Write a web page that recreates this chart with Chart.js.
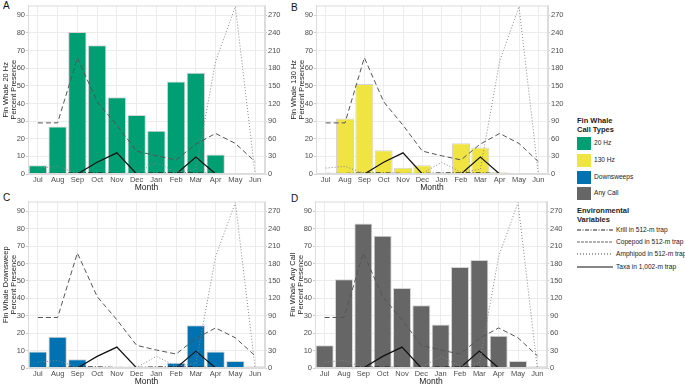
<!DOCTYPE html>
<html lang="en">
<head>
<meta charset="utf-8" />
<title>Fin whale call presence and zooplankton</title>
<style>
*{box-sizing:border-box;margin:0;padding:0}
body{width:685px;height:387px;overflow:hidden;background:#fff;position:relative;
     font-family:"Liberation Sans",Arial,Helvetica,sans-serif;color:#222}
canvas{position:absolute}
.tag{position:absolute;font-size:10px;color:#111}
.lg{position:absolute;font-size:6.6px;color:#222;white-space:nowrap;line-height:1}
.lg.h{font-size:7.5px;font-weight:bold;line-height:8.5px}
.sw{position:absolute;left:577px;width:14px;height:13px}
svg.ln{position:absolute;left:577px}
</style>
</head>
<body>

<div class="tag" style="left:3px;top:0px">A</div>
<div class="tag" style="left:291px;top:2px">B</div>
<div class="tag" style="left:3px;top:192px">C</div>
<div class="tag" style="left:291px;top:193px">D</div>

<canvas id="pA" width="285" height="194" style="left:0;top:0"></canvas>
<canvas id="pB" width="280" height="194" style="left:288px;top:0"></canvas>
<canvas id="pC" width="285" height="192" style="left:0;top:196px"></canvas>
<canvas id="pD" width="280" height="192" style="left:287px;top:196px"></canvas>

<!-- legend: call types -->
<div class="lg h" style="left:577px;top:117px">Fin Whale<br>Call Types</div>
<span class="sw" style="top:137px;background:#009e73"></span><div class="lg" style="left:594px;top:140px">20 Hz</div>
<span class="sw" style="top:154px;background:#f0e442"></span><div class="lg" style="left:594px;top:157px">130 Hz</div>
<span class="sw" style="top:171px;background:#0072b2"></span><div class="lg" style="left:594px;top:174px">Downsweeps</div>
<span class="sw" style="top:187px;background:#666666"></span><div class="lg" style="left:594px;top:190px">Any Call</div>

<!-- legend: environmental variables -->
<div class="lg h" style="left:577px;top:207px">Environmental<br>Variables</div>
<svg class="ln" width="36" height="4" style="top:228px"><line x1="0" y1="2" x2="36" y2="2" stroke="#222" stroke-width="1" stroke-dasharray="4,1.5,1,1.5"/></svg>
<div class="lg" style="left:616px;top:227px">Krill in 512-m trap</div>
<svg class="ln" width="36" height="4" style="top:240px"><line x1="0" y1="2" x2="36" y2="2" stroke="#666" stroke-width="1" stroke-dasharray="3,1"/></svg>
<div class="lg" style="left:616px;top:239px">Copepod in 512-m trap</div>
<svg class="ln" width="36" height="4" style="top:252px"><line x1="0" y1="2" x2="36" y2="2" stroke="#444" stroke-width="1" stroke-dasharray="1,2"/></svg>
<div class="lg" style="left:616px;top:251px">Amphipod in 512-m trap</div>
<svg class="ln" width="36" height="4" style="top:265px"><line x1="0" y1="2" x2="36" y2="2" stroke="#111" stroke-width="1.2"/></svg>
<div class="lg" style="left:616px;top:264px">Taxa in 1,002-m trap</div>

<script src="https://cdn.jsdelivr.net/npm/chart.js@4.4.1"></script>
<script>

/* ─── data ─────────────────────────────────────────────── */
const months    = ['Jul','Aug','Sep','Oct','Nov','Dec','Jan','Feb','Mar','Apr','May','Jun'];

/* percent presence of each call type (left axis) */
const hz20      = [5, 27, 80.5, 73, 43.5, 33.5, 24.5, 52.5, 57.5, 11, 0, 0];
const hz130     = [0, 31.5, 51, 13.5, 3.5, 5, 0.5, 17.5, 15, 1, 0, 0];
const downsweep = [9.5, 18, 5, 0.3, 0, 0, 0, 3, 24.5, 9.5, 4, 1];
const anyCall   = [13, 51, 83, 76, 46, 36, 25, 58, 62, 18.5, 4, 1];

/* environmental variables (right axis) */
const krill     = [1, 1, 2, 2, 1, 1, 2, 2, 2, 1, null, null];
const copepod   = [87, 87, 198, 123, 83, 39, 31, 24, 51, 69, 52, 21];
const amphipod  = [10, 13, 1, 1, 1, 1, 20, 3, 8, 192, 285, 0];
const taxa      = [0, 0, 0, 20, 36, 0, 0, 0, 29, 0, null, null];

const LEFT_MAX  = 95.6;

Chart.defaults.font.family = '"Liberation Sans", Arial, sans-serif';
Chart.defaults.color = '#4d4d4d';

const GRID = '#ececec';

/* light frame round the panel, like the ggplot panel border */
const frame = {
    id:'frame',
    afterDraw(c){
        const {ctx, chartArea:a} = c;
        ctx.save();
        ctx.strokeStyle = '#dcdcdc';
        ctx.lineWidth = 1;
        ctx.strokeRect(a.left + 0.5, a.top + 0.5, a.right - a.left - 1, a.bottom - a.top - 1);
        ctx.restore();
    }
};

function makePanel({id, bars, color, yTitle}){
    const lineSet = (label, data, col, dash, w) => ({
        type:'line', label, data, yAxisID:'y2', order:1,
        borderColor:col, borderWidth:w, borderDash:dash,
        pointRadius:0, fill:false, tension:0, spanGaps:false
    });

    new Chart(document.getElementById(id), {
        type:'bar',
        data:{
            labels:months,
            datasets:[
                {label:'calls', data:bars, backgroundColor:color, borderColor:'#d4d4d4',
                 borderWidth:1, barPercentage:0.93, categoryPercentage:1, yAxisID:'y', order:2},
                lineSet('Krill', krill, '#222', [5,2,1,2], 1),
                lineSet('Copepod', copepod, '#555', [5,3], 1),
                lineSet('Amphipod', amphipod, '#888', [1,2], 1),
                lineSet('Taxa', taxa, '#111', [], 1.2)
            ]
        },
        plugins:[frame],
        options:{
            responsive:false,
            animation:false,
            layout:{padding:{top:5, right:0, left:0, bottom:0}},
            plugins:{legend:{display:false}, tooltip:{enabled:false}},
            scales:{
                x:{
                    offset:true,
                    grid:{color:GRID, offset:false, tickLength:1, tickColor:'#ccc'},
                    border:{color:'#dcdcdc'},
                    ticks:{font:{size:7.5}, padding:0, autoSkip:false, maxRotation:0},
                    title:{display:true, text:'Month', color:'#222', font:{size:8.5, lineHeight:1.1}, padding:{top:0, bottom:2}},
                    afterFit:s=>{s.height = 20;}
                },
                y:{
                    position:'left', min:0, max:LEFT_MAX,
                    grid:{color:GRID, tickLength:2, tickColor:'#ccc'},
                    border:{color:'#dcdcdc'},
                    ticks:{stepSize:10, includeBounds:false, font:{size:7.5}, padding:1},
                    title:{display:true, text:yTitle, color:'#222', font:{size:7.5, lineHeight:1.05}, padding:{top:2, bottom:0}},
                    afterFit:s=>{s.width = 28;}
                },
                y2:{
                    position:'right', min:0, max:LEFT_MAX*3,
                    grid:{drawOnChartArea:false, tickLength:2, tickColor:'#ccc'},
                    border:{color:'#dcdcdc'},
                    ticks:{stepSize:30, includeBounds:false, font:{size:7.5}, padding:1},
                    afterFit:s=>{s.width = 20;}
                }
            }
        }
    });
}

makePanel({id:'pA', bars:hz20,      color:'#009e73', yTitle:['Fin Whale 20 Hz','Percent Presence']});
makePanel({id:'pB', bars:hz130,     color:'#f0e442', yTitle:['Fin Whale 130 Hz','Percent Presence']});
makePanel({id:'pC', bars:downsweep, color:'#0072b2', yTitle:['Fin Whale Downsweep','Percent Presence']});
makePanel({id:'pD', bars:anyCall,   color:'#666666', yTitle:['Fin Whale Any Call','Percent Presence']});
</script>
</body>
</html>
